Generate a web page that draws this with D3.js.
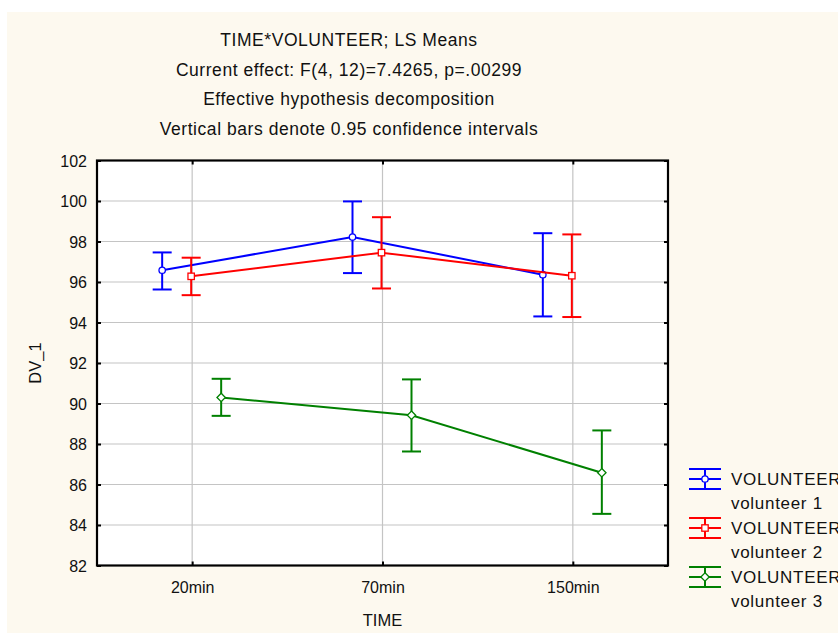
<!DOCTYPE html>
<html>
<head>
<meta charset="utf-8">
<script src="https://cdn.jsdelivr.net/npm/d3@7"></script>
<style>
  html, body { margin: 0; padding: 0; background: #ffffff; }
  svg { display: block; }
  text { font-family: Arial, "Liberation Sans", sans-serif; fill: #111; }
</style>
</head>
<body>
<svg id="chart" width="838" height="633"></svg>
<script>
// LS means of DV_1 by time point, one series per volunteer, with 95% CI bounds
const times = ["20min", "70min", "150min"];
const yTicks = [82, 84, 86, 88, 90, 92, 94, 96, 98, 100, 102];

const volunteerNames = ["volunteer 1", "volunteer 2", "volunteer 3"];
const means1 = [96.58, 98.22, 96.36];
const lower1 = [95.63, 96.44, 94.30];
const upper1 = [97.46, 99.98, 98.41];
const means2 = [96.28, 97.45, 96.31];
const lower2 = [95.35, 95.68, 94.27];
const upper2 = [97.20, 99.20, 98.35];
const means3 = [90.30, 89.42, 86.58];
const lower3 = [89.39, 87.63, 84.55];
const upper3 = [91.22, 91.19, 88.67];

const titleLines = [
  "TIME*VOLUNTEER; LS Means",
  "Current effect: F(4, 12)=7.4265, p=.00299",
  "Effective hypothesis decomposition",
  "Vertical bars denote 0.95 confidence intervals"
];

const series = [
  { name: volunteerNames[0], mean: means1, lo: lower1, hi: upper1, color: "#0000ff", shape: "circle", dodge: -30 },
  { name: volunteerNames[1], mean: means2, lo: lower2, hi: upper2, color: "#ff0000", shape: "square", dodge: -1 },
  { name: volunteerNames[2], mean: means3, lo: lower3, hi: upper3, color: "#008000", shape: "diamond", dodge: 29 }
];

const svg = d3.select("#chart");
const plot = { left: 97, right: 668, top: 160.5, bottom: 565.5 };

// cream page background with white plotting area
svg.append("rect").attr("x", 7).attr("y", 12).attr("width", 831).attr("height", 621).attr("fill", "#fdf9ef");
svg.append("rect").attr("x", plot.left).attr("y", plot.top)
  .attr("width", plot.right - plot.left).attr("height", plot.bottom - plot.top).attr("fill", "#ffffff");

const x = d3.scalePoint().domain(times).range([plot.left, plot.right]).padding(0.5);
const y = d3.scaleLinear().domain([82, 102]).range([plot.bottom, plot.top]);

// grid
const grid = svg.append("g");
grid.selectAll("line.hg").data(yTicks).join("line")
  .attr("x1", plot.left).attr("x2", plot.right)
  .attr("y1", d => y(d)).attr("y2", d => y(d))
  .attr("stroke", "#c4c4c4").attr("stroke-width", 1.2);
grid.selectAll("line.vg").data(times).join("line")
  .attr("x1", d => x(d)).attr("x2", d => x(d))
  .attr("y1", plot.top).attr("y2", plot.bottom)
  .attr("stroke", "#c4c4c4").attr("stroke-width", 1.2);

// axes: labelled left and bottom, tick-only right and top
const yAxis = d3.axisLeft(y).tickValues(yTicks).tickSize(-4).tickPadding(10).tickFormat(d3.format("d"));
const yAxisR = d3.axisRight(y).tickValues(yTicks).tickSize(-4).tickFormat("");
const xAxis = d3.axisBottom(x).tickSize(-4).tickPadding(16);
const xAxisT = d3.axisTop(x).tickSize(-4).tickFormat("");

function styleAxis(g) {
  g.select(".domain").remove();
  g.selectAll(".tick line").attr("stroke", "#000").attr("stroke-width", 2);
  g.selectAll(".tick text").attr("font-size", 16).attr("fill", "#111")
    .attr("font-family", "Arial, 'Liberation Sans', sans-serif");
}
svg.append("g").attr("transform", `translate(${plot.left},0)`).call(yAxis).call(styleAxis)
  .selectAll(".tick text").attr("dy", "0.36em");
svg.append("g").attr("transform", `translate(${plot.right},0)`).call(yAxisR).call(styleAxis);
svg.append("g").attr("transform", `translate(0,${plot.bottom})`).call(xAxis).call(styleAxis)
  .selectAll(".tick text").attr("dy", "0.71em");
svg.append("g").attr("transform", `translate(0,${plot.top})`).call(xAxisT).call(styleAxis);

// frame
svg.append("rect").attr("x", plot.left).attr("y", plot.top)
  .attr("width", plot.right - plot.left).attr("height", plot.bottom - plot.top)
  .attr("fill", "none").attr("stroke", "#000").attr("stroke-width", 2.2);

// marker shapes
function drawMarker(g, shape, cx, cy, color) {
  if (shape === "circle") {
    g.append("circle").attr("cx", cx).attr("cy", cy).attr("r", 3.2)
      .attr("fill", "#fff").attr("stroke", color).attr("stroke-width", 1.3);
  } else if (shape === "square") {
    g.append("rect").attr("x", cx - 3.2).attr("y", cy - 3.2).attr("width", 6.4).attr("height", 6.4)
      .attr("fill", "#fff").attr("stroke", color).attr("stroke-width", 1.3);
  } else {
    const r = 4.2;
    g.append("path").attr("d", `M${cx},${cy - r}L${cx + r},${cy}L${cx},${cy + r}L${cx - r},${cy}Z`)
      .attr("fill", "#fff").attr("stroke", color).attr("stroke-width", 1.3);
  }
}

const capHalf = 9.5;
series.forEach(s => {
  const g = svg.append("g");
  const px = i => x(times[i]) + s.dodge;
  const line = d3.line().x((d, i) => px(i)).y(d => y(d));
  g.append("path").attr("d", line(s.mean)).attr("fill", "none")
    .attr("stroke", s.color).attr("stroke-width", 2);
  s.mean.forEach((m, i) => {
    const cx = px(i);
    g.append("line").attr("x1", cx).attr("x2", cx).attr("y1", y(s.lo[i])).attr("y2", y(s.hi[i]))
      .attr("stroke", s.color).attr("stroke-width", 2);
    [s.lo[i], s.hi[i]].forEach(v => {
      g.append("line").attr("x1", cx - capHalf).attr("x2", cx + capHalf).attr("y1", y(v)).attr("y2", y(v))
        .attr("stroke", s.color).attr("stroke-width", 2);
    });
    drawMarker(g, s.shape, cx, y(m), s.color);
  });
});

// titles
svg.append("g").selectAll("text").data(titleLines).join("text")
  .attr("x", 349).attr("y", (d, i) => 46 + i * 29.5)
  .attr("text-anchor", "middle").attr("font-size", 17.5).attr("letter-spacing", 0.55)
  .text(d => d);

// axis titles
svg.append("text").attr("x", (plot.left + plot.right) / 2).attr("y", 626)
  .attr("text-anchor", "middle").attr("font-size", 16.5).text("TIME");
svg.append("text").attr("transform", `translate(41,${(plot.top + plot.bottom) / 2}) rotate(-90)`)
  .attr("text-anchor", "middle").attr("font-size", 16.5).text("DV_1");

// legend
const legend = svg.append("g");
series.forEach((s, k) => {
  const cy = 479 + k * 49;
  const g = legend.append("g");
  [-10, 0, 10].forEach(dy => {
    g.append("line").attr("x1", 689).attr("x2", 721).attr("y1", cy + dy).attr("y2", cy + dy)
      .attr("stroke", s.color).attr("stroke-width", 2);
  });
  g.append("line").attr("x1", 705).attr("x2", 705).attr("y1", cy - 10).attr("y2", cy + 10)
    .attr("stroke", s.color).attr("stroke-width", 2);
  drawMarker(g, s.shape, 705, cy, s.color);
  g.append("text").attr("x", 731).attr("y", cy + 6).attr("font-size", 17).attr("letter-spacing", 0.7)
    .text("VOLUNTEER");
  g.append("text").attr("x", 731).attr("y", cy + 30).attr("font-size", 17).attr("letter-spacing", 0.7)
    .text(s.name);
});
</script>
</body>
</html>
